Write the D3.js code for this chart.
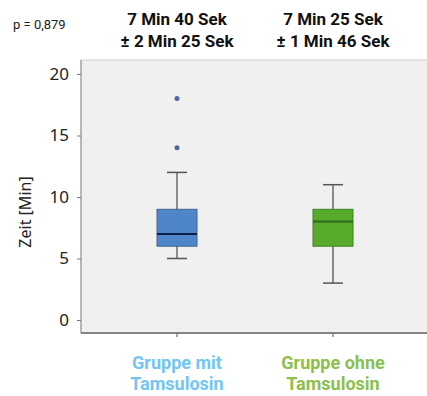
<!DOCTYPE html>
<html>
<head>
<script src="https://d3js.org/d3.v7.min.js"></script>
<style>
  body { margin: 0; background: #fff; }
  svg { display: block; }
</style>
</head>
<body>
<div id="container"></div>
<script>
// data
const groups = ['Gruppe mit Tamsulosin', 'Gruppe ohne Tamsulosin']
const q1 = [6, 6]
const medians = [7, 8]
const q3 = [9, 9]
const whiskerLow = [5, 3]
const whiskerHigh = [12, 11]
const outliers = [[18, 14], []]
const meanLabels = ['7 Min 40 Sek', '7 Min 25 Sek']
const sdLabels = ['± 2 Min 25 Sek', '± 1 Min 46 Sek']
const labelLines = [['Gruppe mit', 'Tamsulosin'], ['Gruppe ohne', 'Tamsulosin']]
const yTicks = [0, 5, 10, 15, 20]

const width = 427, height = 396
const plot = { left: 81, right: 440, top: 60, bottom: 333 }

const boxFill = ['#4f86c9', '#58ab2a']
const boxStroke = ['#3f6496', '#3f7f22']
const medianColor = ['#0d1f45', '#2d6a1c']
const labelColor = ['#72c6f0', '#8cbf4c']

const svg = d3.select('#container')
  .append('svg')
  .attr('width', width)
  .attr('height', height)

const x = d3.scaleBand()
  .domain(groups)
  .range([99, 411])
  .padding(0)

const y = d3.scaleLinear()
  .domain([0, 20])
  .range([320, 74])

// plot background
svg.append('rect')
  .attr('x', plot.left).attr('y', plot.top)
  .attr('width', plot.right - plot.left)
  .attr('height', plot.bottom - plot.top)
  .attr('fill', '#f0f0f0')
  .attr('stroke', '#d0d0d0')

// y axis
const yAxis = svg.append('g')
  .attr('transform', `translate(${plot.left},0)`)
  .call(d3.axisLeft(y).tickValues(yTicks).tickSize(4).tickPadding(8))
yAxis.select('.domain').remove()
yAxis.selectAll('line').attr('stroke', '#777')
yAxis.selectAll('text')
  .attr('font-family', 'Noto Sans, Open Sans, sans-serif')
  .attr('font-size', 17)
  .attr('fill', '#222')

svg.append('line')
  .attr('x1', plot.left).attr('x2', plot.left)
  .attr('y1', plot.top).attr('y2', plot.bottom)
  .attr('stroke', '#888')

// x axis
const xAxis = svg.append('g')
  .attr('transform', `translate(0,${plot.bottom})`)
  .call(d3.axisBottom(x).tickSize(4).tickFormat(''))
xAxis.select('.domain').remove()
xAxis.selectAll('line').attr('stroke', '#555')

svg.append('line')
  .attr('x1', plot.left).attr('x2', width)
  .attr('y1', plot.bottom).attr('y2', plot.bottom)
  .attr('stroke', '#666').attr('stroke-width', 1.5)

// y label
svg.append('text')
  .attr('transform', `translate(31,212) rotate(-90)`)
  .attr('text-anchor', 'middle')
  .attr('font-family', 'Noto Sans, Open Sans, sans-serif')
  .attr('font-size', 16)
  .attr('fill', '#222')
  .text('Zeit [Min]')

// boxes
const boxW = 40, capW = 20
const g = svg.selectAll('.box')
  .data(groups)
  .join('g')
  .attr('class', 'box')

g.append('line')
  .attr('x1', d => x(d) + x.bandwidth() / 2)
  .attr('x2', d => x(d) + x.bandwidth() / 2)
  .attr('y1', (d, i) => y(whiskerLow[i]))
  .attr('y2', (d, i) => y(whiskerHigh[i]))
  .attr('stroke', '#555').attr('stroke-width', 1.3)

g.selectAll('.cap')
  .data((d, i) => [whiskerLow[i], whiskerHigh[i]].map(v => ({ d, v })))
  .join('line')
  .attr('x1', c => x(c.d) + x.bandwidth() / 2 - capW / 2)
  .attr('x2', c => x(c.d) + x.bandwidth() / 2 + capW / 2)
  .attr('y1', c => y(c.v))
  .attr('y2', c => y(c.v))
  .attr('stroke', '#555').attr('stroke-width', 1.5)

g.append('rect')
  .attr('x', d => x(d) + x.bandwidth() / 2 - boxW / 2)
  .attr('width', boxW)
  .attr('y', (d, i) => y(q3[i]))
  .attr('height', (d, i) => y(q1[i]) - y(q3[i]))
  .attr('fill', (d, i) => boxFill[i])
  .attr('stroke', (d, i) => boxStroke[i])

g.append('line')
  .attr('x1', d => x(d) + x.bandwidth() / 2 - boxW / 2)
  .attr('x2', d => x(d) + x.bandwidth() / 2 + boxW / 2)
  .attr('y1', (d, i) => y(medians[i]))
  .attr('y2', (d, i) => y(medians[i]))
  .attr('stroke', (d, i) => medianColor[i]).attr('stroke-width', 2)

g.selectAll('.outlier')
  .data((d, i) => outliers[i].map(v => ({ d, v })))
  .join('circle')
  .attr('cx', c => x(c.d) + x.bandwidth() / 2)
  .attr('cy', c => y(c.v))
  .attr('r', 2.5)
  .attr('fill', '#4a68a8')

// top labels
const font = 'Roboto, sans-serif'
groups.forEach((grp, i) => {
  const cx = x(grp) + x.bandwidth() / 2
  svg.append('text')
    .attr('x', cx).attr('y', 25)
    .attr('text-anchor', 'middle')
    .attr('font-family', font).attr('font-weight', 'bold').attr('font-size', 17)
    .attr('fill', '#111')
    .text(meanLabels[i])
  svg.append('text')
    .attr('x', cx).attr('y', 47)
    .attr('text-anchor', 'middle')
    .attr('font-family', font).attr('font-weight', 'bold').attr('font-size', 17)
    .attr('fill', '#111')
    .text(sdLabels[i])
  labelLines[i].forEach((line, j) => {
    svg.append('text')
      .attr('x', cx).attr('y', 369 + j * 21)
      .attr('text-anchor', 'middle')
      .attr('font-family', font).attr('font-weight', 'bold').attr('font-size', 18)
      .attr('fill', labelColor[i])
      .text(line)
  })
})

svg.append('text')
  .attr('x', 13).attr('y', 29)
  .attr('font-family', font)
  .attr('font-size', 13)
  .attr('fill', '#222')
  .text('p = 0,879')
</script>
</body>
</html>
